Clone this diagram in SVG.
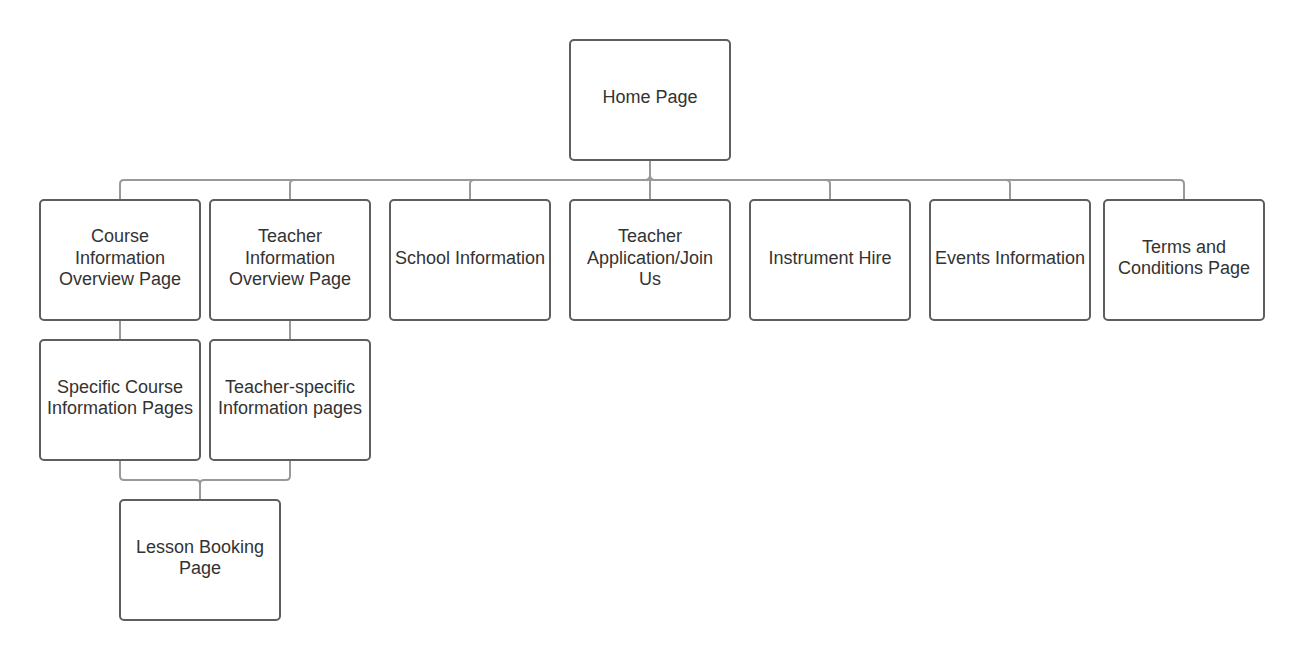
<svg xmlns="http://www.w3.org/2000/svg" width="1304" height="660" viewBox="0 0 1304 660">
<style>
.n{fill:#fff;stroke:#5e5e5e;stroke-width:2}
.t{font-family:"Liberation Sans",Arial,sans-serif;font-size:18px;fill:#333;text-anchor:middle;dominant-baseline:central}
.c{fill:none;stroke:#999;stroke-width:2}
</style>
<rect width="1304" height="660" fill="#fff"/>
<g id="connectors">
<path class="c" d="M650 160V176Q650 180 646 180H124Q120 180 120 184V200"/>
<path class="c" d="M650 160V176Q650 180 646 180H294Q290 180 290 184V200"/>
<path class="c" d="M650 160V176Q650 180 646 180H474Q470 180 470 184V200"/>
<path class="c" d="M650 160V200"/>
<path class="c" d="M650 160V176Q650 180 654 180H826Q830 180 830 184V200"/>
<path class="c" d="M650 160V176Q650 180 654 180H1006Q1010 180 1010 184V200"/>
<path class="c" d="M650 160V176Q650 180 654 180H1180Q1184 180 1184 184V200"/>
<path class="c" d="M120 320V340"/>
<path class="c" d="M290 320V340"/>
<path class="c" d="M120 460V476Q120 480 124 480H196Q200 480 200 484V500"/>
<path class="c" d="M290 460V476Q290 480 286 480H204Q200 480 200 484V500"/>
</g>
<g id="home"><rect class="n" x="570" y="40" width="160" height="120" rx="4"/><text class="t" x="650" y="97">Home Page</text></g>
<g id="course"><rect class="n" x="40" y="200" width="160" height="120" rx="4"/><text class="t" x="120" y="236">Course</text><text class="t" x="120" y="257.5">Information</text><text class="t" x="120" y="279">Overview Page</text></g>
<g id="teacher"><rect class="n" x="210" y="200" width="160" height="120" rx="4"/><text class="t" x="290" y="236">Teacher</text><text class="t" x="290" y="257.5">Information</text><text class="t" x="290" y="279">Overview Page</text></g>
<g id="school"><rect class="n" x="390" y="200" width="160" height="120" rx="4"/><text class="t" x="470" y="257.5">School Information</text></g>
<g id="apply"><rect class="n" x="570" y="200" width="160" height="120" rx="4"/><text class="t" x="650" y="236">Teacher</text><text class="t" x="650" y="257.5">Application/Join</text><text class="t" x="650" y="279">Us</text></g>
<g id="hire"><rect class="n" x="750" y="200" width="160" height="120" rx="4"/><text class="t" x="830" y="257.5">Instrument Hire</text></g>
<g id="events"><rect class="n" x="930" y="200" width="160" height="120" rx="4"/><text class="t" x="1010" y="257.5">Events Information</text></g>
<g id="terms"><rect class="n" x="1104" y="200" width="160" height="120" rx="4"/><text class="t" x="1184" y="246.5">Terms and</text><text class="t" x="1184" y="268">Conditions Page</text></g>
<g id="specific-course"><rect class="n" x="40" y="340" width="160" height="120" rx="4"/><text class="t" x="120" y="386.5">Specific Course</text><text class="t" x="120" y="408">Information Pages</text></g>
<g id="specific-teacher"><rect class="n" x="210" y="340" width="160" height="120" rx="4"/><text class="t" x="290" y="386.5">Teacher-specific</text><text class="t" x="290" y="408">Information pages</text></g>
<g id="lesson"><rect class="n" x="120" y="500" width="160" height="120" rx="4"/><text class="t" x="200" y="546.5">Lesson Booking</text><text class="t" x="200" y="568">Page</text></g>
</svg>
